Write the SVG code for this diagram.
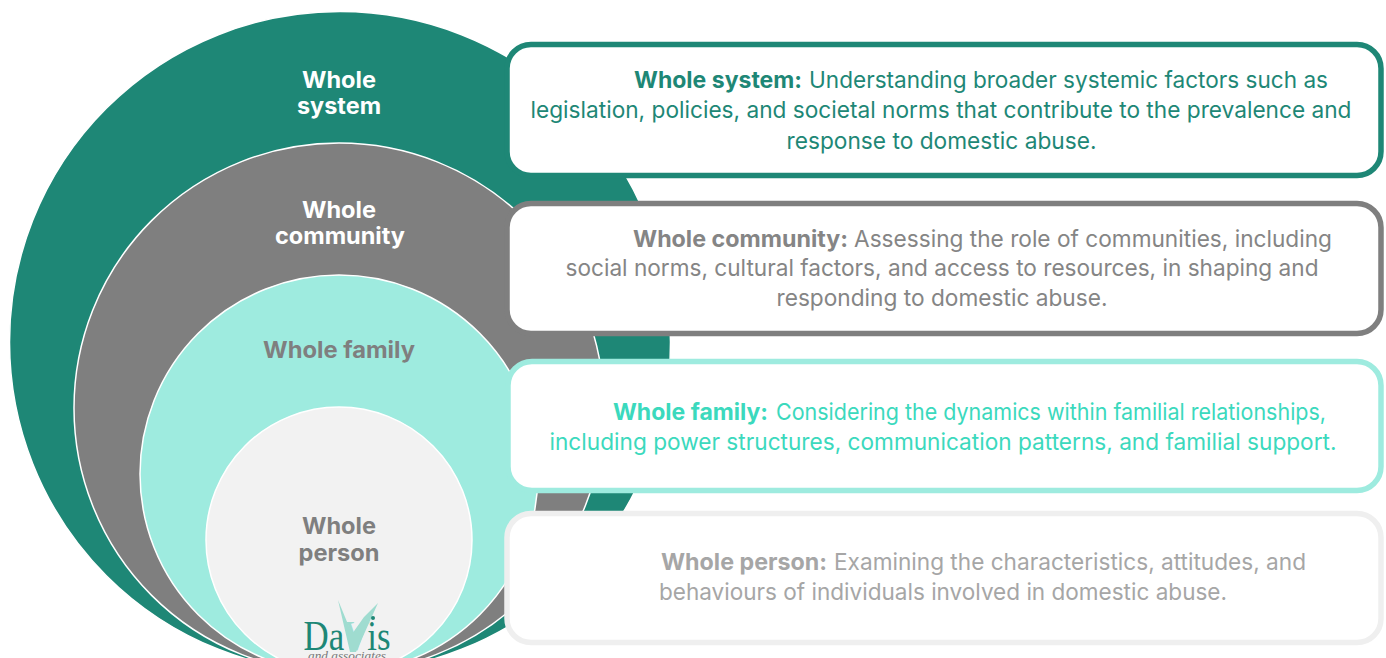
<svg xmlns="http://www.w3.org/2000/svg" width="1386" height="658" viewBox="0 0 1386 658">
<style>
text{font-family:"Inter","Noto Sans","Liberation Sans",sans-serif;text-anchor:middle}
.l{font-size:23px;font-weight:700;fill:#fff}
.g{fill:#7f7f7f}
.t{font-size:23px}
.s{text-anchor:start;font-size:23px}
.b{font-weight:700}
.c{fill:#fff;stroke-width:5.500}
.o{stroke:#fff;stroke-width:1.500}
</style>
<rect width="1386" height="658" fill="#fff"/>
<g id="circle-system"><circle class="o" cx="340" cy="342" r="330.500" fill="#1e8776"/><text class="l" x="339" y="88" textLength="74" lengthAdjust="spacingAndGlyphs">Whole</text><text class="l" x="339" y="114" textLength="84" lengthAdjust="spacingAndGlyphs">system</text></g>
<g id="circle-community"><circle class="o" cx="339" cy="408" r="265" fill="#7f7f7f"/><text class="l" x="339" y="218" textLength="74" lengthAdjust="spacingAndGlyphs">Whole</text><text class="l" x="340" y="244" textLength="130" lengthAdjust="spacingAndGlyphs">community</text></g>
<g id="circle-family"><circle class="o" cx="339" cy="474" r="199" fill="#9eebdf"/><text class="l g" x="339" y="358" textLength="152" lengthAdjust="spacingAndGlyphs">Whole family</text></g>
<g id="circle-person"><circle class="o" cx="339" cy="540" r="133" fill="#f2f2f2"/><text class="l g" x="339" y="534" textLength="74" lengthAdjust="spacingAndGlyphs">Whole</text><text class="l g" x="339" y="561" textLength="81" lengthAdjust="spacingAndGlyphs">person</text></g>
<g id="logo">
<path d="M338 600L352 634L364 617L378 603L356 652L350 652Z" fill="#9fdcd0"/>
<text x="347" y="650" style="font-family:'Liberation Serif',serif;font-size:43px" fill="#1e8776" textLength="87" lengthAdjust="spacingAndGlyphs">Da<tspan fill="#9fdcd0">V</tspan>is</text>
<circle cx="373" cy="618" r="2" fill="#1e8776"/>
<text x="347" y="660" style="font-family:'Liberation Serif',serif;font-size:13px;font-style:italic" fill="#777" textLength="78" lengthAdjust="spacingAndGlyphs">and associates</text>
</g>
<g id="card-system"><rect class="c" x="507" y="44.500" width="874" height="131" rx="24" stroke="#1e8776"/>
<g fill="#1e8776"><text class="s b" x="634" y="88" textLength="168" lengthAdjust="spacingAndGlyphs">Whole system:</text><text class="s" x="809" y="88" textLength="519" lengthAdjust="spacingAndGlyphs">Understanding broader systemic factors such as</text><text class="t" x="941" y="118" textLength="821" lengthAdjust="spacingAndGlyphs">legislation, policies, and societal norms that contribute to the prevalence and</text><text class="t" x="941.500" y="148.500" textLength="310" lengthAdjust="spacingAndGlyphs">response to domestic abuse.</text></g></g>
<g id="card-community"><rect class="c" x="507" y="203.500" width="874" height="130" rx="24" stroke="#7f7f7f"/>
<g fill="#858585"><text class="s b" x="633" y="246.500" textLength="215" lengthAdjust="spacingAndGlyphs">Whole community:</text><text class="s" x="854" y="246.500" textLength="478" lengthAdjust="spacingAndGlyphs">Assessing the role of communities, including</text><text class="t" x="942" y="276" textLength="753" lengthAdjust="spacingAndGlyphs">social norms, cultural factors, and access to resources, in shaping and</text><text class="t" x="942" y="306" textLength="331" lengthAdjust="spacingAndGlyphs">responding to domestic abuse.</text></g></g>
<g id="card-family"><rect class="c" x="508" y="361.500" width="873" height="129" rx="24" stroke="#9eebdf"/>
<g fill="#3bd9bd"><text class="s b" x="613" y="420" textLength="155" lengthAdjust="spacingAndGlyphs">Whole family:</text><text class="s" x="776" y="420" textLength="550" lengthAdjust="spacingAndGlyphs">Considering the dynamics within familial relationships,</text><text class="t" x="943" y="450" textLength="787" lengthAdjust="spacingAndGlyphs">including power structures, communication patterns, and familial support.</text></g></g>
<g id="card-person"><rect class="c" x="507" y="513.500" width="874" height="129" rx="24" stroke="#efefef"/>
<g fill="#a6a6a6"><text class="s b" x="661" y="570" textLength="166" lengthAdjust="spacingAndGlyphs">Whole person:</text><text class="s" x="834" y="570" textLength="472" lengthAdjust="spacingAndGlyphs">Examining the characteristics, attitudes, and</text><text class="t" x="943" y="600" textLength="568" lengthAdjust="spacingAndGlyphs">behaviours of individuals involved in domestic abuse.</text></g></g>
<g id="connectors"/>
</svg>
